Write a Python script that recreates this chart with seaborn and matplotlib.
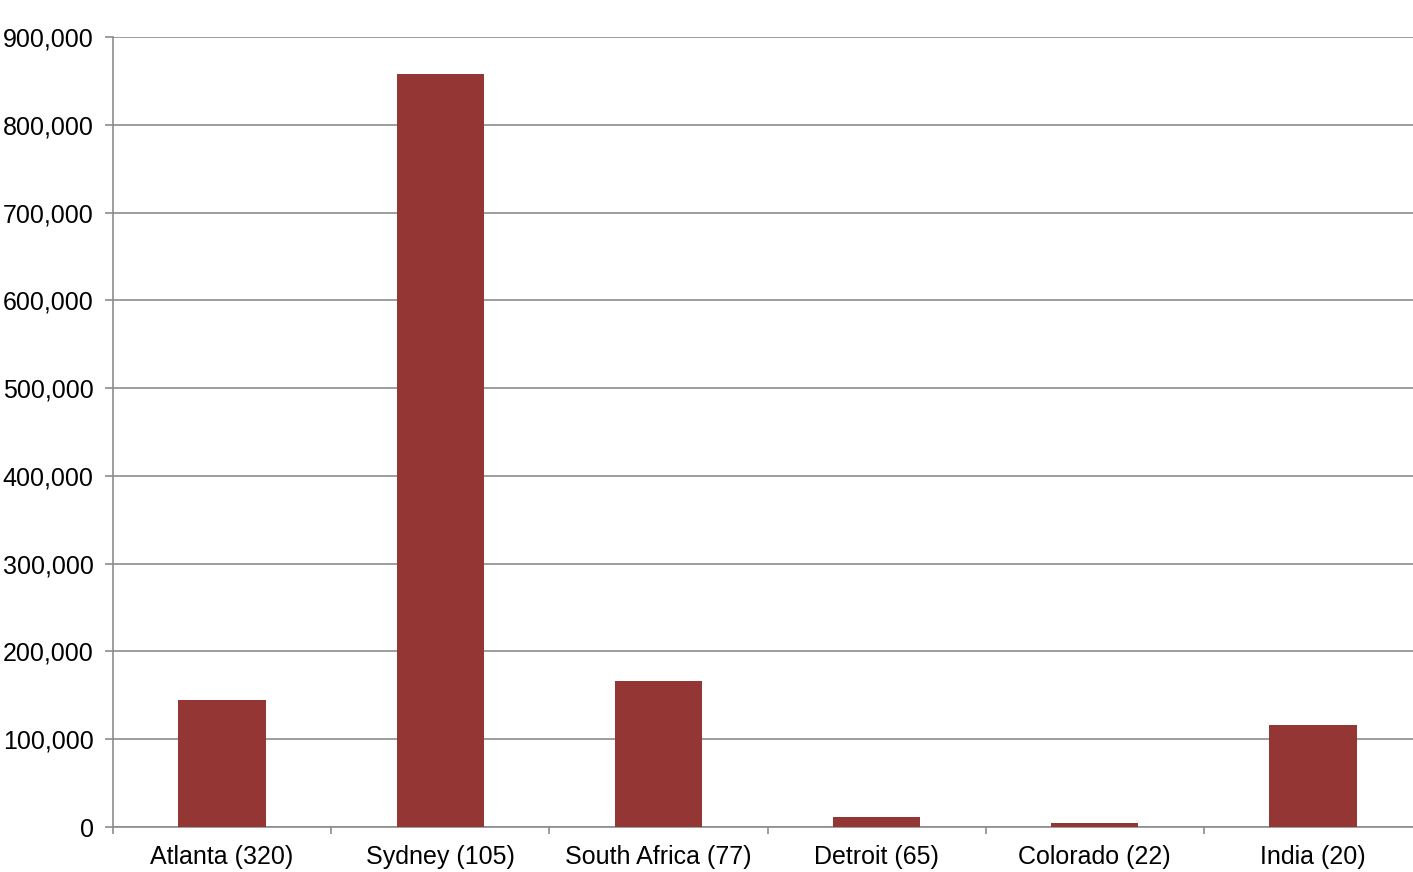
import matplotlib
matplotlib.use("Agg")
import matplotlib.pyplot as plt
import matplotlib.ticker as mticker
import pandas as pd
import seaborn as sns

# data
categories = ["Atlanta (320)", "Sydney (105)", "South Africa (77)",
              "Detroit (65)", "Colorado (22)", "India (20)"]
values = [145000, 858000, 166000, 11000, 4000, 116500]
y_ticks = [0, 100000, 200000, 300000, 400000, 500000, 600000, 700000, 800000, 900000]

df = pd.DataFrame({"place": categories, "value": values})

sns.set_style("white")
plt.rcParams["font.family"] = ["Liberation Sans", "DejaVu Sans"]

fig = plt.figure(figsize=(14.13, 8.72), dpi=100)
# plot area runs slightly past the right edge of the image, as in the original
ax = fig.add_axes([113 / 1413, 1 - 827 / 872, 1309 / 1413, (827 - 37) / 872])

sns.barplot(data=df, x="place", y="value", color="#943634", width=0.4,
            saturation=1, edgecolor="#943634", linewidth=0, ax=ax, zorder=3)

ax.set_ylim(0, 900000)
ax.set_xlim(-0.5, len(categories) - 0.5)
ax.set_yticks(y_ticks)
ax.yaxis.set_major_formatter(mticker.FuncFormatter(lambda v, p: f"{int(v):,}"))
ax.yaxis.grid(True, color="#8c8c8c", linewidth=1.2, zorder=0)
ax.set_xlabel("")
ax.set_ylabel("")

for s in ["top", "right"]:
    ax.spines[s].set_visible(False)
for s in ["left", "bottom"]:
    ax.spines[s].set_color("#8c8c8c")
    ax.spines[s].set_linewidth(1.2)

ax.tick_params(axis="y", length=6, width=1.2, color="#8c8c8c", labelsize=18,
               labelcolor="black", pad=8, left=True)
ax.tick_params(axis="x", which="major", length=0, labelsize=18,
               labelcolor="black", pad=13)
ax.set_xticks([i + 0.5 for i in range(-1, len(categories))], minor=True)
ax.tick_params(axis="x", which="minor", length=5, width=1.2, color="#8c8c8c", bottom=True)

fig.savefig("out.png", dpi=100)
